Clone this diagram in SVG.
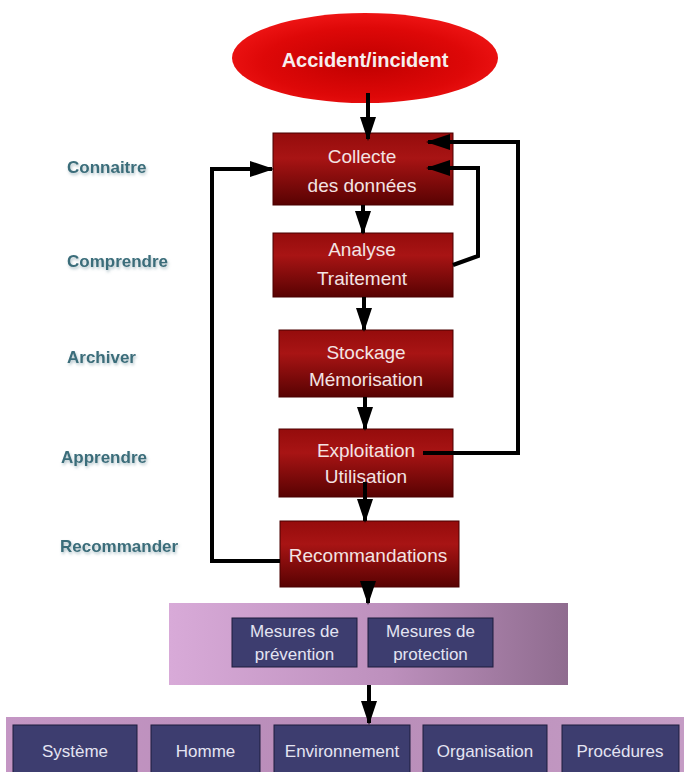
<svg xmlns="http://www.w3.org/2000/svg" width="684" height="772" viewBox="0 0 684 772">
<defs>
<style>
.lbl{font-family:"Liberation Sans",Arial,sans-serif;font-weight:bold;font-size:17px;fill:#3a6d7a}
.rt{font-family:"Liberation Sans",Arial,sans-serif;font-size:19px;fill:#f3e3e3;text-anchor:middle}
.bt{font-family:"Liberation Sans",Arial,sans-serif;font-size:17px;fill:#e4e4f2;text-anchor:middle}
.rbox{fill:url(#redG);stroke:#4a0000;stroke-width:1}
.nbox{fill:#3d3d6f;stroke:#1c1c3c;stroke-width:1}
.conn{fill:none;stroke:#000;stroke-width:4;stroke-linejoin:miter}
</style>
<linearGradient id="redG" x1="0" y1="0" x2="0" y2="1">
<stop offset="0" stop-color="#950c0c"/>
<stop offset="0.35" stop-color="#a81414"/>
<stop offset="1" stop-color="#580202"/>
</linearGradient>
<radialGradient id="ellG" cx="0.5" cy="0.55" r="0.55">
<stop offset="0" stop-color="#c00000"/>
<stop offset="0.7" stop-color="#de0808"/>
<stop offset="1" stop-color="#ee1414"/>
</radialGradient>
<linearGradient id="purG" x1="0" y1="0" x2="1" y2="0">
<stop offset="0" stop-color="#d8aad8"/>
<stop offset="0.55" stop-color="#bd90bd"/>
<stop offset="1" stop-color="#8f6c8f"/>
</linearGradient>
<linearGradient id="purG2" x1="0" y1="0" x2="1" y2="0">
<stop offset="0" stop-color="#c496c4"/>
<stop offset="0.5" stop-color="#b88cb8"/>
<stop offset="1" stop-color="#c59cc5"/>
</linearGradient>
<filter id="soft" x="-10%" y="-30%" width="120%" height="160%">
<feGaussianBlur in="SourceAlpha" stdDeviation="1.5"/>
<feOffset dx="1" dy="1.5" result="b"/>
<feFlood flood-color="#7a9aa4" flood-opacity="0.6"/>
<feComposite in2="b" operator="in"/>
<feMerge><feMergeNode/><feMergeNode in="SourceGraphic"/></feMerge>
</filter>
<marker id="ah" markerUnits="userSpaceOnUse" markerWidth="24" markerHeight="16" refX="22" refY="8" viewBox="0 0 24 16" orient="auto">
<path d="M0,0 L24,8 L0,16 Z" fill="#000"/>
</marker>
</defs>
<rect width="684" height="772" fill="#fff"/>

<g id="labels">
<text class="lbl" x="67" y="173" filter="url(#soft)">Connaitre</text>
<text class="lbl" x="67" y="267" filter="url(#soft)">Comprendre</text>
<text class="lbl" x="67" y="363" filter="url(#soft)">Archiver</text>
<text class="lbl" x="61" y="463" filter="url(#soft)">Apprendre</text>
<text class="lbl" x="60" y="552" filter="url(#soft)">Recommander</text>
</g>

<g id="n-accident">
<ellipse cx="365" cy="58" rx="133" ry="45" fill="url(#ellG)"/>
<text x="365" y="67" text-anchor="middle" style="font-family:'Liberation Sans',Arial,sans-serif;font-weight:bold;font-size:20px;fill:#f6eeee">Accident/incident</text>
</g>

<g id="n-collecte">
<rect class="rbox" x="273" y="133" width="180" height="72"/>
<text class="rt" x="362" y="163">Collecte</text>
<text class="rt" x="362" y="192">des données</text>
</g>
<g id="n-analyse">
<rect class="rbox" x="273" y="233" width="180" height="64"/>
<text class="rt" x="362" y="256">Analyse</text>
<text class="rt" x="362" y="285">Traitement</text>
</g>
<g id="n-stockage">
<rect class="rbox" x="279" y="330" width="174" height="67"/>
<text class="rt" x="366" y="359">Stockage</text>
<text class="rt" x="366" y="386">Mémorisation</text>
</g>
<g id="n-exploitation">
<rect class="rbox" x="279" y="429" width="174" height="68"/>
<text class="rt" x="366" y="457">Exploitation</text>
<text class="rt" x="366" y="483">Utilisation</text>
</g>
<g id="n-recommandations">
<rect class="rbox" x="280" y="521" width="179" height="66"/>
<text class="rt" x="368" y="562">Recommandations</text>
</g>

<g id="n-mesures">
<rect x="169" y="603" width="399" height="82" fill="url(#purG)"/>
<g id="n-prevention">
<rect class="nbox" x="232" y="618" width="125" height="49"/>
<text class="bt" x="294.5" y="637">Mesures de</text>
<text class="bt" x="294.5" y="660">prévention</text>
</g>
<g id="n-protection">
<rect class="nbox" x="368" y="618" width="125" height="49"/>
<text class="bt" x="430.5" y="637">Mesures de</text>
<text class="bt" x="430.5" y="660">protection</text>
</g>
</g>

<g id="n-domaines">
<rect x="6" y="717" width="678" height="55" fill="url(#purG2)"/>
<g id="n-systeme"><rect class="nbox" x="13" y="725" width="124" height="50"/><text class="bt" x="75" y="757">Système</text></g>
<g id="n-homme"><rect class="nbox" x="151" y="725" width="109" height="50"/><text class="bt" x="205.5" y="757">Homme</text></g>
<g id="n-environnement"><rect class="nbox" x="274" y="725" width="136" height="50"/><text class="bt" x="342" y="757">Environnement</text></g>
<g id="n-organisation"><rect class="nbox" x="423" y="725" width="124" height="50"/><text class="bt" x="485" y="757">Organisation</text></g>
<g id="n-procedures"><rect class="nbox" x="562" y="725" width="117" height="50"/><text class="bt" x="620" y="757">Procédures</text></g>
</g>

<g id="connectors">
<path class="conn" d="M368,93 V139" marker-end="url(#ah)"/>
<path class="conn" d="M363,205 V233" marker-end="url(#ah)"/>
<path class="conn" d="M364,297 V330" marker-end="url(#ah)"/>
<path class="conn" d="M365,397 V429" marker-end="url(#ah)"/>
<path class="conn" d="M365,482 V521" marker-end="url(#ah)"/>
<path class="conn" d="M368,587 V603" marker-end="url(#ah)"/>
<path class="conn" d="M369,685 V723" marker-end="url(#ah)"/>
<path class="conn" d="M280,561 H212 V169 H272" marker-end="url(#ah)"/>
<path class="conn" d="M453,265 L478,256 V168 H428" marker-end="url(#ah)"/>
<path class="conn" d="M423,453 H518 V142 H428" marker-end="url(#ah)"/>
</g>
</svg>
